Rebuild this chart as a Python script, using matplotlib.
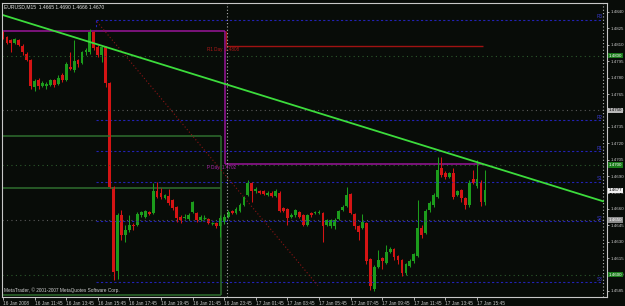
import matplotlib.pyplot as plt

plt.rcParams['font.family'] = ['Liberation Sans', 'DejaVu Sans']

title = "EURUSD,M15  1.4665 1.4690 1.4666 1.4670"
copyright_note = "MetaTrader, \u00a9 2001-2007 MetaQuotes Software Corp."

# M15 candles, 16 Jan 09:45 .. 17 Jan 16:15
opens = [1.4821, 1.4817, 1.4814, 1.4812, 1.4814, 1.4809, 1.4802, 1.4796, 1.4771, 1.4778,
         1.4772, 1.4772, 1.4773, 1.4778, 1.4774, 1.4782, 1.4778, 1.4790, 1.4787, 1.4796,
         1.4793, 1.4803, 1.4803, 1.4822, 1.4808, 1.4801, 1.4808, 1.4775, 1.4680, 1.4603,
         1.4654, 1.4636, 1.4641, 1.4645, 1.4645, 1.4654, 1.4653, 1.4657, 1.4656, 1.4676,
         1.4675, 1.4670, 1.4672, 1.4668, 1.4662, 1.4653, 1.4652, 1.4651, 1.4657, 1.4656,
         1.4650, 1.4652, 1.4651, 1.4647, 1.4647, 1.4644, 1.4648, 1.4653, 1.4658, 1.4656,
         1.4658, 1.4664, 1.4673, 1.4684, 1.4676, 1.4676, 1.4676, 1.4673, 1.4675, 1.4672,
         1.4675, 1.4661, 1.4660, 1.4653, 1.4654, 1.4657, 1.4654, 1.4645, 1.4656, 1.4656,
         1.4656, 1.4656, 1.4645, 1.4644, 1.4644, 1.4651, 1.4659, 1.4663, 1.4674, 1.4655,
         1.4644, 1.4643, 1.4647, 1.4614, 1.4587, 1.4607, 1.4615, 1.4611, 1.4621, 1.4623,
         1.4617, 1.4613, 1.4601, 1.4608, 1.4612, 1.4617, 1.4643, 1.4638, 1.4659, 1.4664,
         1.4671, 1.4697, 1.4693, 1.4689, 1.4693, 1.4673, 1.4677, 1.4670, 1.4664, 1.4687,
         1.4681, 1.4684, 1.4666]
highs = [1.4823, 1.4818, 1.4815, 1.4816, 1.4815, 1.4811, 1.4803, 1.4797, 1.4779, 1.4780,
         1.4777, 1.4776, 1.4779, 1.4779, 1.4782, 1.4784, 1.4794, 1.4803, 1.4814, 1.4797,
         1.4804, 1.4807, 1.4824, 1.4823, 1.4810, 1.4809, 1.4809, 1.4776, 1.4681, 1.4656,
         1.4659, 1.4645, 1.4654, 1.4647, 1.4657, 1.4658, 1.4659, 1.4658, 1.4684, 1.4685,
         1.4679, 1.4674, 1.4678, 1.4669, 1.4663, 1.4654, 1.4655, 1.4656, 1.4667, 1.4657,
         1.4654, 1.4654, 1.4652, 1.4648, 1.4648, 1.4654, 1.4655, 1.4659, 1.4659, 1.4662,
         1.4665, 1.4672, 1.4686, 1.4685, 1.4680, 1.4677, 1.4677, 1.4676, 1.4676, 1.4678,
         1.4676, 1.4662, 1.4661, 1.4656, 1.4660, 1.4658, 1.4655, 1.4655, 1.4657, 1.4658,
         1.4659, 1.4657, 1.4651, 1.4651, 1.4652, 1.4659, 1.4664, 1.4680, 1.4675, 1.4656,
         1.4645, 1.4655, 1.4648, 1.4615, 1.4609, 1.4622, 1.4616, 1.4627, 1.4625, 1.4624,
         1.4618, 1.4614, 1.4611, 1.4614, 1.4620, 1.4668, 1.4645, 1.4660, 1.4667, 1.4675,
         1.4707, 1.4707, 1.4695, 1.4694, 1.4697, 1.4677, 1.4678, 1.4671, 1.4686, 1.4696,
         1.4705, 1.4686, 1.4696]
lows = [1.4815, 1.4811, 1.4803, 1.4811, 1.4809, 1.4801, 1.4795, 1.4770, 1.4768, 1.4770,
        1.4771, 1.4770, 1.4772, 1.4771, 1.4773, 1.4776, 1.4777, 1.4787, 1.4785, 1.4790,
        1.4792, 1.4801, 1.4802, 1.4805, 1.4799, 1.4794, 1.4771, 1.4679, 1.4595, 1.4596,
        1.4632, 1.4630, 1.4639, 1.4641, 1.4644, 1.4653, 1.4652, 1.4654, 1.4655, 1.4670,
        1.4669, 1.4669, 1.4664, 1.4659, 1.4648, 1.4647, 1.4651, 1.4650, 1.4656, 1.4648,
        1.4649, 1.4650, 1.4646, 1.4645, 1.4643, 1.4634, 1.4646, 1.4652, 1.4655, 1.4655,
        1.4657, 1.4663, 1.4672, 1.4666, 1.4675, 1.4674, 1.4673, 1.4672, 1.4671, 1.4671,
        1.4657, 1.4657, 1.4645, 1.4652, 1.4653, 1.4652, 1.4644, 1.4644, 1.4653, 1.4655,
        1.4655, 1.4630, 1.4644, 1.4643, 1.4642, 1.4650, 1.4658, 1.4662, 1.4655, 1.4642,
        1.4632, 1.4642, 1.4610, 1.4586, 1.4585, 1.4606, 1.4605, 1.4610, 1.4620, 1.4613,
        1.4610, 1.4599, 1.4600, 1.4607, 1.4611, 1.4616, 1.4633, 1.4637, 1.4657, 1.4662,
        1.4670, 1.4689, 1.4687, 1.4688, 1.4669, 1.4672, 1.4666, 1.4660, 1.4662, 1.4683,
        1.4679, 1.4663, 1.4664]
closes = [1.4816, 1.4812, 1.4812, 1.4815, 1.4810, 1.4803, 1.4796, 1.4772, 1.4777, 1.4772,
          1.4775, 1.4774, 1.4778, 1.4773, 1.4780, 1.4778, 1.4792, 1.4788, 1.4795, 1.4792,
          1.4803, 1.4805, 1.4822, 1.4807, 1.4801, 1.4808, 1.4775, 1.4680, 1.4602, 1.4654,
          1.4636, 1.4641, 1.4645, 1.4644, 1.4655, 1.4657, 1.4658, 1.4655, 1.4676, 1.4671,
          1.4671, 1.4673, 1.4665, 1.4661, 1.4652, 1.4650, 1.4653, 1.4654, 1.4666, 1.4650,
          1.4653, 1.4652, 1.4647, 1.4647, 1.4644, 1.4652, 1.4653, 1.4657, 1.4656, 1.4660,
          1.4664, 1.4671, 1.4684, 1.4676, 1.4678, 1.4675, 1.4674, 1.4675, 1.4672, 1.4676,
          1.4658, 1.4658, 1.4652, 1.4654, 1.4659, 1.4653, 1.4645, 1.4654, 1.4654, 1.4657,
          1.4657, 1.4644, 1.4650, 1.4650, 1.4650, 1.4658, 1.4662, 1.4673, 1.4656, 1.4644,
          1.4639, 1.4648, 1.4612, 1.4590, 1.4607, 1.4613, 1.4612, 1.4621, 1.4623, 1.4616,
          1.4613, 1.4601, 1.4610, 1.4612, 1.4619, 1.4643, 1.4636, 1.4658, 1.4665, 1.4673,
          1.4696, 1.4691, 1.4689, 1.4693, 1.4671, 1.4676, 1.4670, 1.4664, 1.4684, 1.4684,
          1.4687, 1.4666, 1.4677]

time_labels = ['16 Jan 2008', '16 Jan 11:45', '16 Jan 13:45', '16 Jan 15:45', '16 Jan 17:45',
               '16 Jan 19:45', '16 Jan 21:45', '16 Jan 23:45', '17 Jan 01:45', '17 Jan 03:45',
               '17 Jan 05:45', '17 Jan 07:45', '17 Jan 09:45', '17 Jan 11:45', '17 Jan 13:45',
               '17 Jan 15:45']
bars_per_label = 8

price_labels = ['1.4840', '1.4825', '1.4810', '1.4795', '1.4780', '1.4765', '1.4750', '1.4735',
                '1.4720', '1.4705', '1.4690', '1.4675', '1.4660', '1.4645', '1.4630', '1.4615',
                '1.4600', '1.4585']
round_levels = [1.4800, 1.4700, 1.4600]
grey_levels = [1.4750, 1.4650]

# pivot levels (blue dotted)
pivot_levels = [1.4833, 1.4741, 1.4713, 1.4685, 1.4649, 1.4593]
pivot_names = ['R3', 'R2', 'R1', 'S1', 'S2', 'S3']
pivot_start = 23.5

# objects drawn on chart (bar index, price)
trend_x = [-0.75, 151.9]
trend_y = [1.4838, 1.4667]
fan_x = [23.8, 79.7]
fan_y = [1.4831, 1.4590]
day_break = 56.2
chart_end = 151.9
prev_top = 1.4823
p_day = 1.4701
r1_day = 1.4809
level_end = 121.5
box_levels = [1.4727, 1.4679, 1.4581]
box_end = 55.3

bg = '#080c08'
up_col = '#1c9c1c'
down_col = '#d41414'
axis_col = '#c8c8c8'

fig = plt.figure(figsize=(6.25, 3.06), dpi=100, facecolor=bg)
ax = fig.add_axes([2 / 625, 9 / 306, 605 / 625, 294 / 306], facecolor=bg)
ax.set_xlim(-0.25, 152.9)
ax.set_ylim(1.45795, 1.48482)

# horizontal grid-like levels
for lv in round_levels:
    ax.axhline(lv, color='#2c5a2c', lw=0.8, ls=(0, (1, 3)))
for lv in grey_levels:
    ax.axhline(lv, color='#5a5a5a', lw=0.8, ls=(0, (1, 3)))

# pivots
for lv, name in zip(pivot_levels, pivot_names):
    ax.hlines(lv, pivot_start, chart_end, color='#2222b4', lw=0.8, ls=(0, (2, 2)))
    ax.text(chart_end - 0.2, lv + 0.00003, name, color='#3a3ad0', fontsize=3.3,
            ha='right', va='bottom')
ax.vlines(pivot_start, pivot_levels[0], pivot_levels[0] - 0.0009, color='#2222b4', lw=0.8,
          ls=(0, (2, 2)))

# dark green rectangle
for lv in box_levels:
    ax.hlines(lv, -1, box_end, color='#2e6e2e', lw=1.1)
ax.vlines(box_end, box_levels[-1], box_levels[0], color='#2e6e2e', lw=1.1)

# previous day objects
ax.hlines(prev_top, -1, day_break, color='#9a169a', lw=1.1)
ax.vlines(day_break, p_day, prev_top, color='#9a169a', lw=1.1)
ax.hlines(p_day, day_break, level_end, color='#9a169a', lw=1.1)
ax.vlines(day_break + 0.3, r1_day, prev_top, color='#a01212', lw=1.0)
ax.hlines(r1_day, day_break + 0.3, level_end, color='#a01212', lw=1.0)
ax.text(51.6, r1_day - 0.0001, 'R1 Day  1.4808', color='#b01818', fontsize=3.3,
        ha='left', va='top')
ax.text(51.6, p_day - 0.0001, 'P Day  1.4702', color='#b020b0', fontsize=3.3,
        ha='left', va='top')

# dotted diagonal
ax.plot(fan_x, fan_y, color='#8a1414', lw=0.8, ls=(0, (1, 2)))

# separators
ax.axvline(day_break + 0.5, color='#b0b0b0', lw=0.8, ls=(0, (1, 2)))
ax.axvline(chart_end, color='#b0b0b0', lw=0.8, ls=(0, (1, 2)))

# candles
for i in range(len(opens)):
    o, h, l, c = opens[i], highs[i], lows[i], closes[i]
    col = up_col if c >= o else down_col
    ax.vlines(i, l, h, color=col, lw=0.75)
    if c == o:
        ax.hlines(o, i - 0.4, i + 0.4, color=col, lw=0.9)
    else:
        ax.bar(i, c - o, bottom=o, width=0.72, color=col, linewidth=0)

# trend line
ax.plot(trend_x, trend_y, color='#3cdc3c', lw=1.3)

# axes styling
for side in ['left', 'right', 'bottom', 'top']:
    ax.spines[side].set_color(axis_col)
    ax.spines[side].set_linewidth(0.8)
ax.yaxis.tick_right()
ax.set_yticks([float(s) for s in price_labels])
ax.set_yticklabels(price_labels)
ax.set_xticks([k * bars_per_label for k in range(len(time_labels))])
ax.set_xticklabels(time_labels, ha='left')
ax.tick_params(axis='y', colors=axis_col, length=1.5, width=0.6, pad=0.8, labelsize=3.2)
ax.tick_params(axis='x', colors=axis_col, length=2, width=0.6, pad=1.2, labelsize=3.4)

# price boxes on the right scale
box_x = 1.0035
for lv in round_levels:
    ax.text(box_x, lv, '%.4f' % lv, transform=ax.get_yaxis_transform(), fontsize=3.2,
            color='white', ha='left', va='center', zorder=5,
            bbox=dict(boxstyle='square,pad=0.15', fc='#1a7a1a', ec='none'))
ax.text(box_x, grey_levels[0], '%.4f' % grey_levels[0], transform=ax.get_yaxis_transform(),
        fontsize=3.2, color='black', ha='left', va='center', zorder=5,
        bbox=dict(boxstyle='square,pad=0.15', fc='#b8b8b8', ec='none'))
ax.text(box_x, grey_levels[1], '%.4f' % grey_levels[1], transform=ax.get_yaxis_transform(),
        fontsize=3.2, color='white', ha='left', va='center', zorder=5,
        bbox=dict(boxstyle='square,pad=0.15', fc='#8c8c8c', ec='none'))
ax.text(box_x, closes[-1], '%.4f' % closes[-1], transform=ax.get_yaxis_transform(),
        fontsize=3.2, color='black', ha='left', va='center', zorder=5,
        bbox=dict(boxstyle='square,pad=0.15', fc='#f0f0f0', ec='none'))

ax.text(0.003, 0.995, title, transform=ax.transAxes, color='#e0e0e0', fontsize=3.6,
        ha='left', va='top')
ax.text(0.003, 0.012, copyright_note, transform=ax.transAxes, color='#d0d0d0', fontsize=3.4,
        ha='left', va='bottom')

fig.savefig('out.png', dpi=100, facecolor=bg)
